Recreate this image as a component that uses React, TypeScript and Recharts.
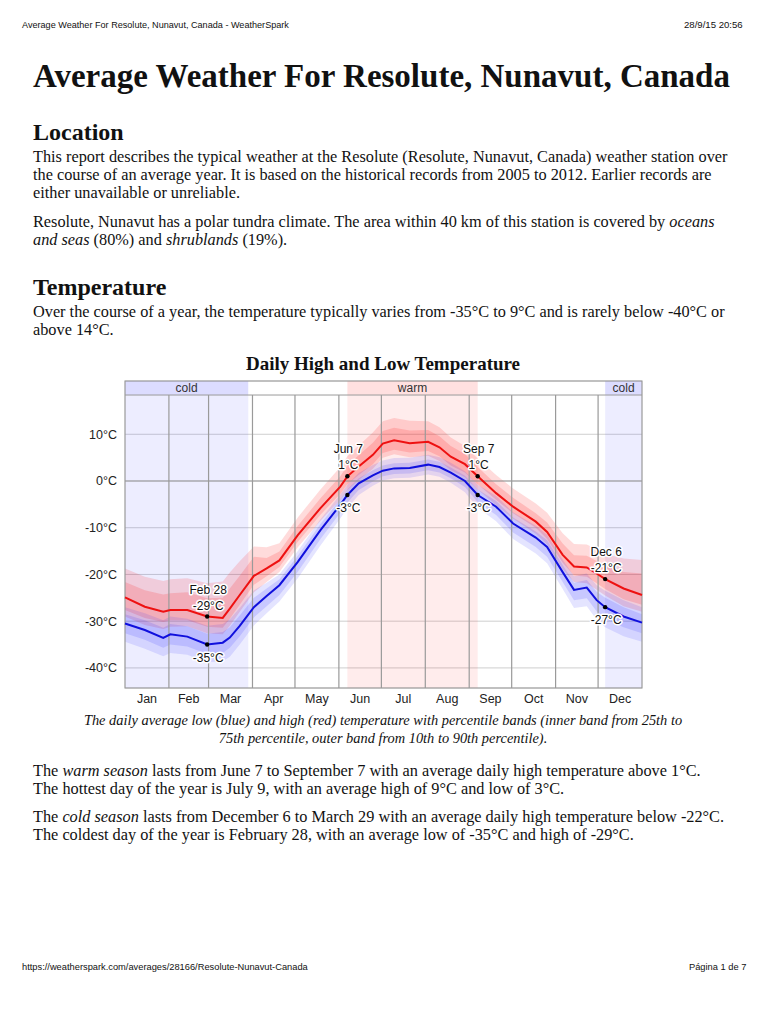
import React from 'react';
import {
    ComposedChart, Area, Line, XAxis, YAxis, CartesianGrid,
    ReferenceArea, ReferenceLine, ReferenceDot
} from 'recharts';

const days = [0, 14, 27, 32, 44, 58, 69, 74, 81, 91, 100, 109, 122, 138, 152, 157, 165, 175, 182, 190, 201, 214, 222, 230, 240, 249, 262, 274, 290, 298, 309, 317, 326, 333, 339, 352, 365];

const highAvg = [-24.9, -26.9, -28.0, -27.6, -27.6, -29.0, -29.3, -27.3, -24.4, -20.3, -18.7, -17.0, -11.6, -5.8, -1.2, 1.0, 3.1, 5.6, 8.0, 8.7, 8.1, 8.4, 7.2, 5.2, 3.6, 1.0, -2.6, -5.5, -8.7, -10.9, -15.8, -18.3, -18.5, -19.8, -21.0, -23.0, -24.4];
const high90 = [-18.7, -20.5, -21.4, -21.0, -20.8, -21.9, -21.5, -19.6, -17.2, -14.0, -14.2, -13.3, -7.8, -1.8, 3.0, 5.3, 7.6, 10.4, 12.8, 13.5, 12.9, 12.8, 11.5, 9.3, 7.5, 4.8, 1.3, -1.6, -4.8, -6.8, -11.2, -13.5, -13.6, -14.6, -15.6, -16.6, -16.9];
const high75 = [-21.6, -23.4, -24.3, -24.0, -23.8, -25.1, -25.0, -23.0, -20.3, -16.2, -16.5, -15.1, -9.6, -3.7, 1.0, 3.3, 5.5, 8.2, 10.7, 11.4, 10.8, 10.9, 9.6, 7.5, 5.8, 3.0, -0.7, -3.6, -6.9, -8.9, -13.4, -15.9, -16.0, -17.1, -18.1, -19.5, -19.8];
const high25 = [-27.6, -29.3, -30.2, -29.8, -29.8, -31.2, -31.4, -29.5, -26.5, -22.2, -20.4, -18.4, -13.0, -7.2, -2.8, -0.7, 1.3, 3.6, 6.0, 6.7, 6.1, 6.4, 5.3, 3.3, 1.8, -0.7, -4.0, -6.9, -10.0, -12.4, -17.5, -20.2, -20.5, -21.9, -23.1, -25.3, -26.5];
const high10 = [-29.0, -30.8, -31.7, -31.2, -31.1, -32.6, -32.8, -31.0, -28.0, -23.8, -21.6, -19.5, -14.2, -8.5, -4.0, -1.9, 0.2, 2.6, 5.0, 5.7, 5.1, 5.4, 4.3, 2.3, 0.8, -1.8, -5.2, -8.1, -11.3, -13.6, -18.9, -21.6, -21.9, -23.3, -24.5, -26.8, -28.0];

const lowAvg = [-30.5, -31.9, -33.6, -32.8, -33.3, -35.0, -34.6, -33.5, -31.0, -27.0, -24.6, -22.3, -17.3, -10.5, -5.1, -3.0, -0.5, 1.2, 2.2, 2.7, 2.8, 3.5, 3.0, 1.8, 0.0, -3.0, -5.5, -9.1, -12.1, -14.1, -19.5, -23.3, -22.8, -25.5, -27.0, -29.0, -30.3];
const low90 = [-27.0, -28.3, -29.8, -29.0, -29.5, -31.0, -30.6, -29.6, -27.2, -23.4, -21.8, -20.0, -15.0, -8.2, -2.9, -0.8, 1.7, 3.4, 4.4, 4.9, 5.0, 5.6, 5.1, 3.9, 2.1, -0.8, -3.2, -6.7, -9.6, -11.5, -16.8, -20.4, -19.8, -22.3, -23.5, -25.5, -27.0];
const low75 = [-28.5, -29.8, -31.4, -30.6, -31.1, -32.7, -32.3, -31.3, -28.8, -25.0, -23.0, -21.0, -16.0, -9.2, -3.9, -1.8, 0.6, 2.3, 3.3, 3.8, 3.9, 4.6, 4.1, 2.9, 1.1, -1.8, -4.3, -7.8, -10.8, -12.7, -18.0, -21.8, -21.2, -23.7, -25.0, -27.0, -28.5];
const low25 = [-32.6, -34.0, -35.7, -35.0, -35.4, -37.0, -36.8, -35.7, -33.2, -29.2, -26.8, -24.4, -19.4, -12.4, -6.8, -4.6, -1.9, -0.1, 1.0, 1.5, 1.6, 2.3, 1.8, 0.6, -1.3, -4.5, -7.3, -11.0, -14.1, -16.2, -21.6, -25.5, -25.1, -27.9, -29.5, -31.3, -32.6];
const low10 = [-34.4, -35.9, -37.5, -36.8, -37.2, -38.8, -38.6, -37.6, -35.0, -30.9, -28.3, -25.8, -20.8, -13.8, -8.0, -5.8, -3.0, -1.0, 0.1, 0.6, 0.7, 1.4, 0.9, -0.4, -2.4, -5.7, -8.6, -12.4, -15.5, -17.6, -23.1, -27.2, -26.8, -29.7, -31.3, -33.2, -34.4];

const monthNames = ['Jan', 'Feb', 'Mar', 'Apr', 'May', 'Jun', 'Jul', 'Aug', 'Sep', 'Oct', 'Nov', 'Dec'];
const monthMid = [15.5, 45, 74.5, 105, 135.5, 166, 196.5, 227.5, 258, 288.5, 319, 349.5];
const monthStart = [31, 59, 90, 120, 151, 181, 212, 243, 273, 304, 334];
const tempTicks = [-40, -30, -20, -10, 0, 10];

// seasons as [start day, end day]
const coldSeasons = [[0, 87], [339, 365]];
const warmSeason = [157, 249];

const markDays = [58, 157, 249, 339];
const markNames = ['Feb 28', 'Jun 7', 'Sep 7', 'Dec 6'];
const markHigh = [-29, 1, 1, -21];
const markLow = [-35, -3, -3, -27];

const Y_MIN = -44.3;
const Y_PLOT_TOP = 18.4;
const Y_MAX = 21.4;

const data = days.map((d, i) => ({
    day: d,
    high: highAvg[i],
    low: lowAvg[i],
    highOuter: [high10[i], high90[i]],
    highInner: [high25[i], high75[i]],
    lowOuter: [low10[i], low90[i]],
    lowInner: [low25[i], low75[i]],
}));

const sans = "'Liberation Sans', Arial, sans-serif";
const serif = "'Liberation Serif', 'Times New Roman', serif";

const haloText = {
    fontFamily: sans,
    fontSize: 12,
    fill: '#111',
    stroke: '#fff',
    strokeWidth: 3,
    paintOrder: 'stroke',
    strokeLinejoin: 'round',
} as React.CSSProperties;

const markShape = (lines: string[], below: boolean) => (p: any) => (
    <g>
        <circle cx={p.cx} cy={p.cy} r={2.2} fill="#000" />
        {lines.map((t, i) => (
            <text
                key={i}
                x={p.cx + 1}
                y={below ? p.cy + 17 : p.cy - 23 + i * 16}
                textAnchor="middle"
                style={haloText}
            >{t}</text>
        ))}
    </g>
);

const stripLabel = (text: string) => ({
    value: text,
    position: 'center' as const,
    style: { fontFamily: sans, fontSize: 12, fill: '#333' },
});

const TempChart = () => (
    <ComposedChart
        width={590}
        height={340}
        data={data}
        margin={{ top: 10, right: 13, left: 0, bottom: 0 }}
    >
        {coldSeasons.map(([a, b], i) => (
            <ReferenceArea key={'cb' + i} x1={a} x2={b} y1={Y_MIN} y2={Y_PLOT_TOP} fill="#3030ff" fillOpacity={0.085} stroke="none" />
        ))}
        <ReferenceArea x1={warmSeason[0]} x2={warmSeason[1]} y1={Y_MIN} y2={Y_PLOT_TOP} fill="#ff3030" fillOpacity={0.09} stroke="none" />
        {coldSeasons.map(([a, b], i) => (
            <ReferenceArea key={'cs' + i} x1={a} x2={b} y1={Y_PLOT_TOP} y2={Y_MAX} fill="#3030ff" fillOpacity={0.17} stroke="none" label={stripLabel('cold')} />
        ))}
        <ReferenceArea x1={warmSeason[0]} x2={warmSeason[1]} y1={Y_PLOT_TOP} y2={Y_MAX} fill="#ff3030" fillOpacity={0.15} stroke="none" label={stripLabel('warm')} />

        <CartesianGrid vertical={false} stroke="#cfcfcf" />
        <XAxis
            dataKey="day"
            type="number"
            domain={[0, 365]}
            ticks={monthMid}
            tickFormatter={(v) => monthNames[monthMid.indexOf(v)]}
            interval={0}
            height={23}
            tickLine={false}
            axisLine={false}
            tickSize={4}
            tick={{ fontFamily: sans, fontSize: 12.5, fill: '#222' }}
        />
        <YAxis
            type="number"
            domain={[Y_MIN, Y_MAX]}
            ticks={tempTicks}
            allowDataOverflow
            width={60}
            tickLine={false}
            axisLine={false}
            tickSize={6}
            tickFormatter={(v) => `${v}°C`}
            tick={{ fontFamily: sans, fontSize: 12.5, fill: '#222' }}
        />
        {monthStart.map((m) => (
            <ReferenceLine key={m} segment={[{ x: m, y: Y_MIN }, { x: m, y: Y_PLOT_TOP }]} stroke="#9a9a9a" strokeWidth={1.2} />
        ))}
        <ReferenceLine y={0} stroke="#9a9a9a" strokeWidth={1.2} />

        <Area type="linear" dataKey="highOuter" fill="#ff2020" fillOpacity={0.16} stroke="none" isAnimationActive={false} />
        <Area type="linear" dataKey="highInner" fill="#ff2020" fillOpacity={0.18} stroke="none" isAnimationActive={false} />
        <Area type="linear" dataKey="lowOuter" fill="#2020ff" fillOpacity={0.12} stroke="none" isAnimationActive={false} />
        <Area type="linear" dataKey="lowInner" fill="#2020ff" fillOpacity={0.14} stroke="none" isAnimationActive={false} />
        <Line type="linear" dataKey="high" stroke="#ee1111" strokeWidth={2} dot={false} isAnimationActive={false} />
        <Line type="linear" dataKey="low" stroke="#1010dd" strokeWidth={2} dot={false} isAnimationActive={false} />

        {markDays.map((d, i) => (
            <ReferenceDot key={'h' + i} x={d} y={markHigh[i]} r={2} shape={markShape([markNames[i], `${markHigh[i]}°C`], false)} />
        ))}
        {markDays.map((d, i) => (
            <ReferenceDot key={'l' + i} x={d} y={markLow[i]} r={2} shape={markShape([`${markLow[i]}°C`], true)} />
        ))}

        <ReferenceLine y={Y_PLOT_TOP} stroke="#9a9a9a" />
        <ReferenceArea x1={0} x2={365} y1={Y_MIN} y2={Y_MAX} fill="none" stroke="#9a9a9a" strokeWidth={1.2} />
    </ComposedChart>
);

const Txt = ({ y, x = 33, size = 16.3, center = false, style, children }: any) => (
    <div
        style={{
            position: 'absolute',
            top: y - size * 0.6,
            left: center ? 0 : x,
            width: center ? 766 : undefined,
            textAlign: center ? 'center' : 'left',
            fontFamily: serif,
            fontSize: size,
            lineHeight: `${size * 1.2}px`,
            whiteSpace: 'nowrap',
            color: '#111',
            ...style,
        }}
    >{children}</div>
);

const App = () => (
    <div style={{ position: 'absolute', left: 0, top: 0, width: 768, height: 1024, background: '#fff', overflow: 'hidden' }}>
        <Txt y={25} x={22} size={9.1} style={{ fontFamily: sans }}>Average Weather For Resolute, Nunavut, Canada - WeatherSpark</Txt>
        <Txt y={25} x={684} size={9.6} style={{ fontFamily: sans }}>28/9/15 20:56</Txt>

        <Txt y={77} size={33} style={{ fontWeight: 'bold' }}>Average Weather For Resolute, Nunavut, Canada</Txt>

        <Txt y={132} size={24} style={{ fontWeight: 'bold' }}>Location</Txt>
        <Txt y={157}>This report describes the typical weather at the Resolute (Resolute, Nunavut, Canada) weather station over</Txt>
        <Txt y={175}>the course of an average year. It is based on the historical records from 2005 to 2012. Earlier records are</Txt>
        <Txt y={193}>either unavailable or unreliable.</Txt>
        <Txt y={222}>Resolute, Nunavut has a polar tundra climate. The area within 40 km of this station is covered by <i>oceans</i></Txt>
        <Txt y={240}><i>and seas</i> (80%) and <i>shrublands</i> (19%).</Txt>

        <Txt y={287} size={24} style={{ fontWeight: 'bold' }}>Temperature</Txt>
        <Txt y={312}>Over the course of a year, the temperature typically varies from -35°C to 9°C and is rarely below -40°C or</Txt>
        <Txt y={330}>above 14°C.</Txt>

        <Txt y={364} size={19} center style={{ fontWeight: 'bold' }}>Daily High and Low Temperature</Txt>

        <div style={{ position: 'absolute', left: 65, top: 371, width: 590, height: 340 }}>
            <TempChart />
        </div>

        <Txt y={721} size={14.4} center style={{ fontStyle: 'italic' }}>The daily average low (blue) and high (red) temperature with percentile bands (inner band from 25th to</Txt>
        <Txt y={739} size={14.4} center style={{ fontStyle: 'italic' }}>75th percentile, outer band from 10th to 90th percentile).</Txt>

        <Txt y={771}>The <i>warm season</i> lasts from June 7 to September 7 with an average daily high temperature above 1°C.</Txt>
        <Txt y={789}>The hottest day of the year is July 9, with an average high of 9°C and low of 3°C.</Txt>
        <Txt y={817}>The <i>cold season</i> lasts from December 6 to March 29 with an average daily high temperature below -22°C.</Txt>
        <Txt y={835}>The coldest day of the year is February 28, with an average low of -35°C and high of -29°C.</Txt>

        <Txt y={968} x={22} size={9.3} style={{ fontFamily: sans }}>https://weatherspark.com/averages/28166/Resolute-Nunavut-Canada</Txt>
        <Txt y={968} x={689} size={9.3} style={{ fontFamily: sans }}>Página 1 de 7</Txt>
    </div>
);

export default App;
